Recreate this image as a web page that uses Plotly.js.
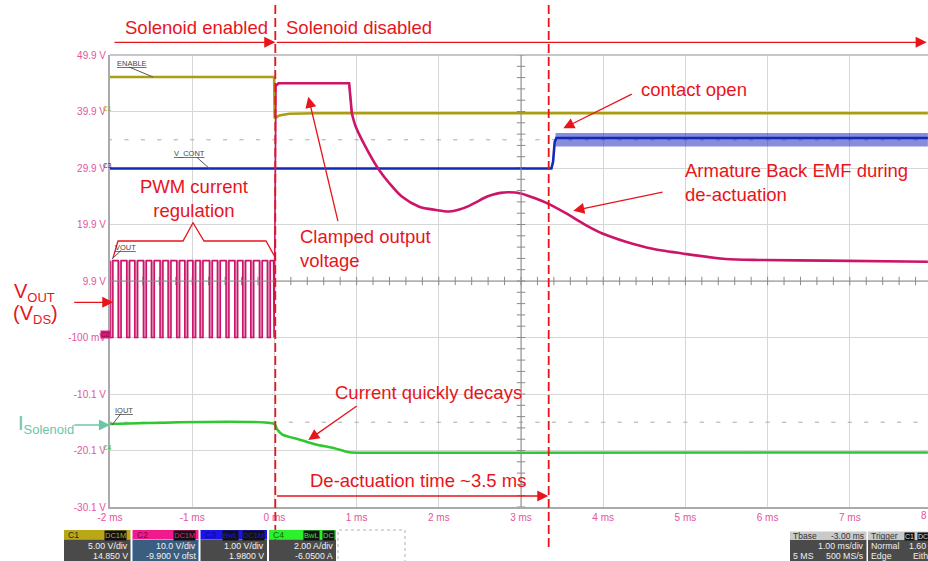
<!DOCTYPE html>
<html><head><meta charset="utf-8">
<script src="https://cdn.plot.ly/plotly-3.0.1.min.js"></script>
<style>html,body{margin:0;padding:0;background:#fff;}#chart{width:928px;height:561px;}</style>
</head><body><div id="chart"></div>
<script>
// ---------------- data ----------------
// time axis: ms ; vertical axis: display volts (C2 scale, 10 V/div)
const xTickVals = [-2, -1, 0, 1, 2, 3, 4, 5, 6, 7];
const xTickText = ['-2 ms', '-1 ms', '0 ms', '1 ms', '2 ms', '3 ms', '4 ms', '5 ms', '6 ms', '7 ms'];
const yTickVals = [49.9, 39.9, 29.9, 19.9, 9.9, -0.1, -10.1, -20.1, -30.1];
const yTickText = ['49.9 V', '39.9 V', '29.9 V', '19.9 V', '9.9 V', '-100 mV', '-10.1 V', '-20.1 V', '-30.1 V'];

// C1 ENABLE
const enableT = [-2, -0.003, 0.003, 0.06, 0.18, 0.5, 7.95];
const enableV = [46.0, 46.0, 38.7, 39.2, 39.5, 39.6, 39.6];

// C3 V_CONT
const vcontT = [-2, 3.37, 3.39, 3.41, 3.43, 7.95];
const vcontV = [29.8, 29.8, 31.0, 34.5, 35.2, 35.2];
const vcontBandT = [3.42, 7.95];
const vcontBandHi = [36.1, 36.1];
const vcontBandLo = [33.7, 33.7];

// C2 VOUT : PWM section (start of each low pulse)
const pwmStarts = [-2.0, -1.90, -1.796, -1.699, -1.593, -1.496, -1.391, -1.293, -1.188, -1.090,
                   -0.993, -0.904, -0.790, -0.693, -0.588, -0.482, -0.385, -0.287, -0.182, -0.085];
const pwmHigh = 13.5;
const pwmLow = -0.1;
const pwmLowWidth = 0.035;
// C2 VOUT : turn-off, clamp
const clampT = [-0.01, -0.004, 0.02, 0.05, 0.909, 0.942];
const clampV = [13.5, -0.1, 44.5, 44.9, 44.9, 39.6];
// C2 VOUT : back-EMF decay after the clamp
const decayT = [0.942, 0.99, 1.152, 1.274, 1.396, 1.554, 1.761, 1.964, 2.126, 2.25, 2.369, 2.45, 2.55,
                2.652, 2.75, 2.855, 2.998, 3.18, 3.342, 3.545, 3.788, 3.99, 4.275, 4.6, 5.005, 5.49,
                5.897, 6.708, 7.95];
const decayV = [39.6, 37.2, 32.5, 29.55, 27.25, 24.8, 23.05, 22.47, 22.2, 22.55, 23.2, 23.8, 24.6,
                25.15, 25.5, 25.6, 25.4, 24.5, 23.5, 21.9, 19.8, 18.3, 16.85, 15.6, 14.68, 13.8,
                13.62, 13.5, 13.3];

// C4 IOUT
const ioutT = [-2, 0.0, 0.03, 0.097, 0.30, 0.504, 0.706, 0.909, 1.11, 7.95];
const ioutV = [-15.4, -15.4, -16.3, -17.27, -18.15, -19.04, -19.6, -20.4, -20.5, -20.45];

// ---------------- colours ----------------
const cOlive = '#aa9d12', cMag = '#cc1468', cBlue = '#1428b8', cGreen = '#2fc82f';
const cRed = '#e8141c', cTeal = '#6cc6a6', cPink = '#e2559c';
const FONT = 'Liberation Sans, Arial, sans-serif';

// ---------------- geometry helpers (pixel -> paper) ----------------
const W = 928, H = 561, ML = 110, MR = 0, MT = 55, MB = 54;
const PW = W - ML - MR, PH = H - MT - MB;
const X = px => (px - ML) / PW;
const Y = py => (H - MB - py) / PH;

// ---------------- build PWM trace ----------------
const vx = [], vy = [];
pwmStarts.forEach(s => {
  vx.push(s, s, s + pwmLowWidth, s + pwmLowWidth);
  vy.push(pwmHigh, pwmLow, pwmLow, pwmHigh);
});
clampT.forEach((t, i) => { vx.push(t); vy.push(clampV[i]); });

// decorative graticule ticks on centre lines and dotted cursor rows
const tickHX = [], tickHY = [], tickVX = [], tickVY = [], dotX = [], dotY = [];
for (let k = 0; k <= 50; k++) { const t = -2 + 0.2 * k; tickHX.push(t); tickHY.push(9.9); }
for (let k = 0; k <= 40; k++) { tickVX.push(3); tickVY.push(-30.1 + 2 * k); }
for (let k = 0; k <= 50; k++) { const t = -2 + 0.2 * k; dotX.push(t, t); dotY.push(34.9, -15.1); }

const traces = [
  {x: tickHX, y: tickHY, mode: 'markers', marker: {symbol: 'line-ns-open', size: 6, color: '#8a8a8a', line: {width: 1, color: '#8a8a8a'}}, hoverinfo: 'skip'},
  {x: tickVX, y: tickVY, mode: 'markers', marker: {symbol: 'line-ew-open', size: 6, color: '#8a8a8a', line: {width: 1, color: '#8a8a8a'}}, hoverinfo: 'skip'},
  {x: dotX, y: dotY, mode: 'markers', marker: {symbol: 'line-ew-open', size: 3, color: '#b8b8b8', line: {width: 1.2, color: '#b8b8b8'}}, hoverinfo: 'skip'},
  {type: 'bar', x: pwmStarts.map(s => s + pwmLowWidth / 2), y: pwmStarts.map(() => pwmHigh - pwmLow),
   base: pwmLow, width: pwmLowWidth, marker: {color: 'rgba(212,120,168,0.75)', line: {width: 0}}, hoverinfo: 'skip'},
  {x: enableT, y: enableV, mode: 'lines', line: {color: cOlive, width: 2.6}},
  {x: vcontBandT, y: vcontBandHi, mode: 'lines', line: {width: 0, color: cBlue}},
  {x: vcontBandT, y: vcontBandLo, mode: 'lines', line: {width: 0, color: cBlue}, fill: 'tonexty', fillcolor: 'rgba(35,50,190,0.55)'},
  {x: vcontT, y: vcontV, mode: 'lines', line: {color: cBlue, width: 2.6}},
  {x: vx, y: vy, mode: 'lines', line: {color: cMag, width: 1.6}},
  {x: clampT.slice(2), y: clampV.slice(2), mode: 'lines', line: {color: cMag, width: 2.6}},
  {x: decayT, y: decayV, mode: 'lines', line: {color: cMag, width: 2.6, shape: 'spline', smoothing: 0.8}},
  {x: ioutT, y: ioutV, mode: 'lines', line: {color: cGreen, width: 2.6, shape: 'spline', smoothing: 0.6}}
];

// ---------------- annotations ----------------
function txt(text, px, py, o = {}) {
  return {text, xref: 'paper', yref: 'paper', x: X(px), y: Y(py), showarrow: false,
          xanchor: o.xa || 'center', yanchor: o.ya || 'middle', align: o.align || 'center',
          font: {family: FONT, size: o.size || 18.5, color: o.color || cRed},
          bgcolor: o.bg, borderpad: o.pad === undefined ? 1 : o.pad};
}
function arr(tipx, tipy, tailx, taily, color) {
  return {text: '', xref: 'paper', yref: 'paper', x: X(tipx), y: Y(tipy),
          ax: tailx - tipx, ay: taily - tipy, axref: 'pixel', ayref: 'pixel',
          showarrow: true, arrowhead: 2, arrowsize: 1.7, arrowwidth: 1.3,
          arrowcolor: color || cRed, standoff: 0, startstandoff: 0};
}

const ann = [
  txt('Solenoid enabled', 196, 28),
  txt('Solenoid disabled', 359, 28),
  txt('contact open', 694, 90),
  txt('Armature Back EMF during<br>de-actuation', 683, 182, {xa: 'left', align: 'left'}),
  txt('PWM current<br>regulation', 194, 198),
  txt('Clamped output<br>voltage', 298, 248, {xa: 'left', align: 'left'}),
  txt('Current quickly decays', 333, 392, {xa: 'left'}),
  txt('De-actuation time ~3.5 ms', 308, 480, {xa: 'left'}),
  txt('V<sub><span style="font-size:13px">OUT</span></sub>', 12, 292, {xa: 'left', size: 20}),
  txt('(V<sub><span style="font-size:13px">DS</span></sub>)', 11, 314, {xa: 'left', size: 20}),
  txt('I<sub><span style="font-size:13px">Solenoid</span></sub>', 16, 424, {xa: 'left', size: 20, color: cTeal}),
  arr(275.3, 42.3, 113, 42.3),
  arr(926.7, 42.3, 275.3, 42.3),
  arr(563.3, 128.3, 633.3, 93.3),
  arr(573.3, 210.7, 664, 191.7),
  arr(308.3, 96.7, 338.3, 222.7),
  arr(308.3, 440, 358.3, 405),
  arr(548.3, 496, 275.3, 496),
  arr(113.3, 302.3, 72.7, 302.3),
  arr(110, 425, 72.7, 425, cTeal),
  // scope trace labels
  txt('<u>ENABLE</u>', 115, 63, {xa: 'left', size: 7.5, color: '#444'}),
  txt('<u>V_CONT</u>', 172, 154, {xa: 'left', size: 7.5, color: '#444'}),
  txt('<u>VOUT</u>', 113, 247, {xa: 'left', size: 7.5, color: '#444'}),
  txt('<u>IOUT</u>', 113, 410, {xa: 'left', size: 7.5, color: '#444'}),
  // channel markers at the left edge
  txt('C1', 107, 108, {size: 6.5, color: cOlive}),
  txt('C3', 107, 165, {size: 6.5, color: cBlue}),
  txt('C2', 105, 334, {size: 6.5, color: '#7a0a40', bg: '#e0187a', pad: 0}),
  txt('C4', 107, 447, {size: 6.5, color: cGreen}),
  // 8 ms tick label cut at right edge
  txt('8 ms', 932, 515, {size: 10, color: cPink}),
];

// ---------------- shapes ----------------
const shapes = [
  {type: 'line', xref: 'paper', yref: 'paper', x0: 0, x1: 1, y0: 1, y1: 1, line: {color: '#b5b5b5', width: 1.5}},
  {type: 'line', xref: 'x', yref: 'paper', x0: 3, x1: 3, y0: 0, y1: 1, line: {color: '#8c8c8c', width: 1}},
  {type: 'line', xref: 'paper', yref: 'y', x0: 0, x1: 1, y0: 9.9, y1: 9.9, line: {color: '#8c8c8c', width: 1}},
  {type: 'line', xref: 'paper', yref: 'paper', x0: X(275.3), x1: X(275.3), y0: Y(5), y1: Y(561), line: {color: cRed, width: 1.8, dash: '9px,4px'}},
  {type: 'line', xref: 'paper', yref: 'paper', x0: X(548.7), x1: X(548.7), y0: Y(5), y1: Y(548), line: {color: cRed, width: 1.8, dash: '9px,4px'}},
];
const br = [[113, 258], [118, 241], [183, 241], [193, 222.7], [204, 241], [266, 241], [275, 257]];
shapes.push({type: 'path', xref: 'paper', yref: 'paper', line: {color: cRed, width: 1.3},
  path: br.map((p, i) => (i ? 'L' : 'M') + X(p[0]) + ',' + Y(p[1])).join(' ')});
[[[129, 67], [153, 77]], [[197, 157.5], [210, 169]], [[112, 259], [121, 250.5]], [[112, 425], [121, 413.5]]].forEach(l => {
  shapes.push({type: 'line', xref: 'paper', yref: 'paper', x0: X(l[0][0]), y0: Y(l[0][1]), x1: X(l[1][0]), y1: Y(l[1][1]), line: {color: '#555', width: 1}});
});

// ---------------- bottom status boxes ----------------
function rect(x0, y0, x1, y1, fill, lineColor, dash) {
  shapes.push({type: 'rect', xref: 'paper', yref: 'paper', x0: X(x0), x1: X(x1), y0: Y(y1), y1: Y(y0),
               fillcolor: fill, line: {color: lineColor || fill, width: lineColor ? 1 : 0, dash: dash || 'solid'}});
}
const boxes = [
  {x0: 64, x1: 130.5, head: '#b8a818', body: '#4a4a4a', name: 'C1', nameColor: '#222', tags: [['DC1M', 104]], r1: '5.00 V/div', r2: '14.850 V'},
  {x0: 132.5, x1: 198.5, head: '#f01a8c', body: '#3b5d80', name: 'C2', nameColor: '#6a0a38', tags: [['DC1M', 173]], r1: '10.0 V/div', r2: '-9.900 V ofst', border: '#8fb3d8'},
  {x0: 200.5, x1: 267, head: '#1a14e6', body: '#4a4a4a', name: 'C3', nameColor: '#0a0a80', tags: [['BwL', 222], ['DC1M', 242]], r1: '1.00 V/div', r2: '1.9800 V'},
  {x0: 269, x1: 336, head: '#2cf02c', body: '#4a4a4a', name: 'C4', nameColor: '#116611', tags: [['BwL', 303], ['DC', 322]], r1: '2.00 A/div', r2: '-6.0500 A'},
];
const ROW1 = 546, ROW2 = 556, BODYFS = 8.8;
boxes.forEach(b => {
  rect(b.x0, 530, b.x1, 539.5, b.head);
  rect(b.x0, 539.5, b.x1, 562, b.body, b.border);
  ann.push(txt(b.name, b.x0 + 3, 535, {xa: 'left', size: 8.5, color: b.nameColor, pad: 0}));
  b.tags.forEach(tg => ann.push(txt(tg[0], tg[1], 535, {xa: 'left', size: 7.5, color: b.head, bg: '#111', pad: 0})));
  ann.push(txt(b.r1, b.x1 - 2, ROW1, {xa: 'right', size: BODYFS, color: '#f2f2f2', pad: 0}));
  ann.push(txt(b.r2, b.x1 - 2, ROW2, {xa: 'right', size: BODYFS, color: '#f2f2f2', pad: 0}));
});
rect(338, 530, 405, 562, 'rgba(0,0,0,0)', '#b0b0b0', 'dot');

rect(790, 531.5, 866.5, 540, '#c9c9c9');
rect(790, 540, 866.5, 562, '#4a4a4a');
ann.push(txt('Tbase', 792, 536, {xa: 'left', size: 8.5, color: '#333', pad: 0}));
ann.push(txt('-3.00 ms', 865, 536, {xa: 'right', size: 8.5, color: '#333', pad: 0}));
ann.push(txt('1.00 ms/div', 865, ROW1, {xa: 'right', size: BODYFS, color: '#eee', pad: 0}));
ann.push(txt('5 MS', 792, ROW2, {xa: 'left', size: BODYFS, color: '#eee', pad: 0}));
ann.push(txt('500 MS/s', 865, ROW2, {xa: 'right', size: BODYFS, color: '#eee', pad: 0}));
rect(868, 531.5, 930, 540, '#c9c9c9');
rect(868, 540, 930, 562, '#4a4a4a');
ann.push(txt('Trigger', 870, 536, {xa: 'left', size: 8.5, color: '#333', pad: 0}));
ann.push(txt('C1', 904, 536, {xa: 'left', size: 7, color: '#ddd', bg: '#111', pad: 0}));
ann.push(txt('DC', 917, 536, {xa: 'left', size: 7, color: '#ddd', bg: '#111', pad: 0}));
ann.push(txt('Normal', 870, ROW1, {xa: 'left', size: BODYFS, color: '#eee', pad: 0}));
ann.push(txt('1.60 V', 908, ROW1, {xa: 'left', size: BODYFS, color: '#eee', pad: 0}));
ann.push(txt('Edge', 870, ROW2, {xa: 'left', size: BODYFS, color: '#eee', pad: 0}));
ann.push(txt('Either', 912, ROW2, {xa: 'left', size: BODYFS, color: '#eee', pad: 0}));

// ---------------- layout ----------------
const axisCommon = {showgrid: true, gridcolor: '#d6d6d6', gridwidth: 1, zeroline: false,
  showline: true, linecolor: '#aaaaaa', linewidth: 2, ticks: '', fixedrange: true,
  tickfont: {family: FONT, size: 10, color: cPink}};
const layout = {
  width: W, height: H,
  margin: {l: ML, r: MR, t: MT, b: MB, pad: 0},
  paper_bgcolor: '#ffffff', plot_bgcolor: '#ffffff',
  showlegend: false, barmode: 'overlay',
  font: {family: FONT},
  xaxis: Object.assign({}, axisCommon, {range: [-2, -2 + PW / 82.2], tickmode: 'array', tickvals: xTickVals, ticktext: xTickText}),
  yaxis: Object.assign({}, axisCommon, {range: [-30.1, 49.9], tickmode: 'array', tickvals: yTickVals, ticktext: yTickText}),
  shapes, annotations: ann
};
Plotly.newPlot('chart', traces, layout, {displayModeBar: false, staticPlot: true});
</script></body></html>
